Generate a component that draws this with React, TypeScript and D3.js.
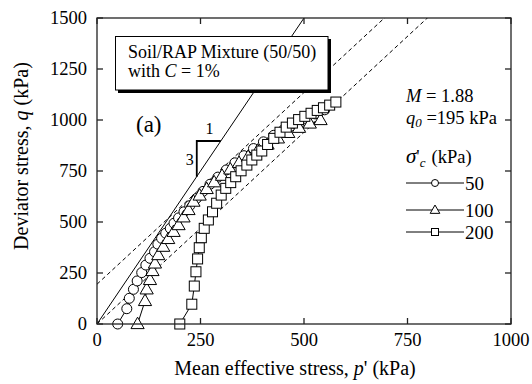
import * as d3 from "d3";

// circles: sigma'c = 50 kPa  [p', q]
const s50: [number, number][] = [
  [50, 0], [72, 75], [78, 126], [88, 170], [97, 211], [108, 252], [118, 289],
  [128, 322], [139, 354], [147, 391], [156, 420], [166, 445], [177, 469], [186, 494],
  [197, 520], [210, 550], [224, 580], [240, 615], [256, 650], [273, 685], [292, 720],
  [312, 755], [333, 790], [355, 825], [378, 860], [402, 893], [427, 925], [452, 955],
  [477, 983], [502, 1008], [527, 1030], [550, 1050],
];
// triangles: sigma'c = 100 kPa
const s100: [number, number][] = [
  [98, 0], [116, 113], [120, 170], [128, 216], [134, 260], [140, 297], [148, 338],
  [160, 379], [172, 417], [185, 452], [197, 485], [209, 523], [221, 559], [233, 600],
  [248, 630], [265, 662], [283, 695], [302, 727], [322, 758], [343, 790], [365, 820],
  [388, 850], [412, 880], [437, 910], [462, 937], [488, 962], [514, 983], [540, 1000],
];
// squares: sigma'c = 200 kPa
const s200: [number, number][] = [
  [200, 0], [229, 97], [235, 186], [239, 256], [243, 319], [247, 374], [252, 423],
  [259, 469], [269, 510], [279, 550], [289, 592], [300, 632], [311, 665], [323, 693],
  [335, 722], [348, 751], [362, 779], [374, 804], [386, 828], [398, 848], [412, 880],
  [427, 910], [442, 940], [457, 965], [472, 985], [487, 1002], [502, 1018], [517, 1033],
  [532, 1047], [547, 1060], [562, 1073], [577, 1088],
];

const ticks = [0, 250, 500, 750, 1000, 1250, 1500];
const xTicks = [0, 250, 500, 750, 1000];
const M = 1.88;
const q0 = 195;

const font = "Liberation Serif, DejaVu Serif, serif";

const App = () => {
  const x = d3.scaleLinear().domain([0, 1000]).range([97, 511]);
  const y = d3.scaleLinear().domain([0, 1500]).range([324, 18]);
  const line = d3.line<[number, number]>().x((d) => x(d[0])).y((d) => y(d[1]));

  const tri = (cx: number, cy: number, s: number) =>
    `M${cx},${cy - s * 0.62}L${cx + s * 0.6},${cy + s * 0.42}L${cx - s * 0.6},${cy + s * 0.42}Z`;

  const marker = (kind: string, cx: number, cy: number, s: number, k: number) => {
    if (kind === "c") return <circle key={k} cx={cx} cy={cy} r={s / 2} fill="white" stroke="black" strokeWidth={1} />;
    if (kind === "t") return <path key={k} d={tri(cx, cy, s + 1)} fill="white" stroke="black" strokeWidth={1} />;
    return <rect key={k} x={cx - s / 2} y={cy - s / 2} width={s} height={s} fill="white" stroke="black" strokeWidth={1} />;
  };

  const series = [
    { data: s50, kind: "c", label: "50" },
    { data: s100, kind: "t", label: "100" },
    { data: s200, kind: "s", label: "200" },
  ];

  const tk = 6;

  return (
    <svg width={532} height={384} style={{ position: "absolute", left: 0, top: 0, background: "white", fontFamily: font }}>
      <defs>
        <clipPath id="plot">
          <rect x={x(0)} y={y(1500)} width={x(1000) - x(0)} height={y(0) - y(1500)} />
        </clipPath>
      </defs>

      {/* reference lines */}
      <g clipPath="url(#plot)">
        <line x1={x(0)} y1={y(0)} x2={x(500)} y2={y(1500)} stroke="black" strokeWidth={1} />
        <line x1={x(0)} y1={y(q0)} x2={x(1000)} y2={y(M * 1000 + q0)} stroke="black" strokeWidth={1} strokeDasharray="4,3" />
        <line x1={x(0)} y1={y(0)} x2={x(1000)} y2={y(M * 1000)} stroke="black" strokeWidth={1} strokeDasharray="4,3" />
      </g>

      {/* slope triangle */}
      <path d={`M${x(241)},${y(722)}V${y(897)}H${x(299)}`} fill="none" stroke="black" strokeWidth={1.8} />
      <text x={x(272)} y={y(897) - 7} fontSize={16} textAnchor="middle">1</text>
      <text x={x(241) - 3} y={y(810) + 6} fontSize={16} textAnchor="end">3</text>

      {/* data */}
      {series.map((s) => (
        <g key={s.label}>
          <path d={line(s.data) || ""} fill="none" stroke="black" strokeWidth={1} />
          {s.data.map((d, i) => marker(s.kind, x(d[0]), y(d[1]), 10, i))}
        </g>
      ))}

      {/* frame */}
      <rect x={x(0)} y={y(1500)} width={x(1000) - x(0)} height={y(0) - y(1500)} fill="none" stroke="#222" strokeWidth={1.3} />
      {ticks.map((t) => (
        <g key={"y" + t}>
          <line x1={x(0)} x2={x(0) + tk} y1={y(t)} y2={y(t)} stroke="#222" strokeWidth={1.3} />
          <line x1={x(1000)} x2={x(1000) - tk} y1={y(t)} y2={y(t)} stroke="#222" strokeWidth={1.3} />
          <text x={87} y={y(t) + 6} fontSize={18.5} textAnchor="end">{t}</text>
        </g>
      ))}
      {xTicks.map((t) => (
        <g key={"x" + t}>
          <line x1={x(t)} x2={x(t)} y1={y(0)} y2={y(0) - tk} stroke="#222" strokeWidth={1.3} />
          <line x1={x(t)} x2={x(t)} y1={y(1500)} y2={y(1500) + tk} stroke="#222" strokeWidth={1.3} />
          <text x={x(t)} y={346} fontSize={18.5} textAnchor="middle">{t}</text>
        </g>
      ))}

      {/* axis titles */}
      <text x={295} y={375} fontSize={20} textAnchor="middle">
        Mean effective stress, <tspan fontStyle="italic">p</tspan>' (kPa)
      </text>
      <text transform="translate(28,156) rotate(-90)" fontSize={20} textAnchor="middle">
        Deviator stress, <tspan fontStyle="italic">q</tspan> (kPa)
      </text>

      {/* title box */}
      <rect x={118} y={39} width={213} height={54} fill="black" />
      <rect x={115.5} y={36.5} width={212.5} height={53.5} fill="white" stroke="black" strokeWidth={1} />
      <text x={128} y={58} fontSize={18}>Soil/RAP Mixture (50/50)</text>
      <text x={128} y={77} fontSize={18}>
        with <tspan fontStyle="italic">C</tspan> = 1%
      </text>

      <text x={136} y={132} fontSize={23}>(a)</text>

      {/* annotations */}
      <text x={406} y={102} fontSize={18.5}>
        <tspan fontStyle="italic">M</tspan> = 1.88
      </text>
      <text x={406} y={124} fontSize={18.5}>
        <tspan fontStyle="italic">q</tspan>
        <tspan fontStyle="italic" fontSize={13} dy={3}>0</tspan>
        <tspan dy={-3}> =195 kPa</tspan>
      </text>
      <text x={406} y={163} fontSize={18.5}>
        <tspan fontStyle="italic" fontSize={21}>σ</tspan>
        <tspan>'</tspan>
        <tspan fontStyle="italic" fontSize={13} dy={4}>c</tspan>
        <tspan dy={-4} dx={6}>(kPa)</tspan>
      </text>

      {/* legend */}
      {series.map((s, i) => {
        const ly = [183, 210, 232][i];
        return (
          <g key={"lg" + s.label}>
            <line x1={406} x2={464} y1={ly} y2={ly} stroke="black" strokeWidth={1} />
            {marker(s.kind, 435, ly, 7, 0)}
            <text x={465} y={ly + 6.5} fontSize={19}>{s.label}</text>
          </g>
        );
      })}
    </svg>
  );
};

export default App;
